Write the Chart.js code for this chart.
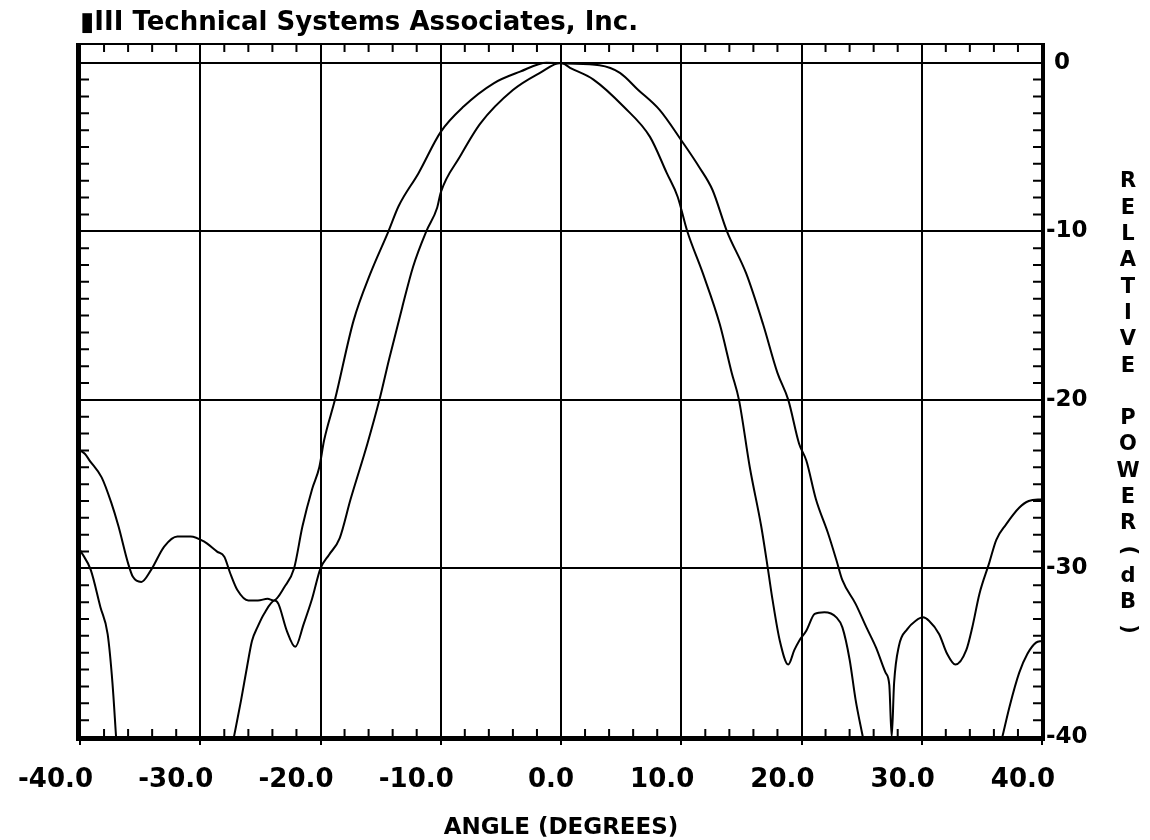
<!DOCTYPE html>
<html>
<head>
<meta charset="utf-8">
<title>Antenna pattern</title>
<script src="https://cdn.jsdelivr.net/npm/chart.js@4.4.1/dist/chart.umd.min.js"></script>
<style>
  html, body { margin: 0; padding: 0; background: #fff; }
  canvas { display: block; }
</style>
</head>
<body>
<canvas id="chart" width="1150" height="840"></canvas>
<script>
"use strict";

// ── Data ──────────────────────────────────────────────────────────────────────
// Angle in degrees, relative power in dB (0 = beam peak). null = below -40 dB.
const ANGLE_A = [
  -40, -39.6, -39.2, -38.2, -37.4, -36.8, -36.0, -35.6, -34.9, -34.1,
  -33.0, -31.9, -30.8, -29.7, -28.6, -28.0, -27.5, -26.9, -26.0, -25.2,
  -24.4, -23.9, -23.0, -22.2, -21.5, -20.7, -20.1, -19.7, -18.8, -17.25,
  -15.85, -14.35, -13.5, -11.85, -10.0, -8.1, -5.6, -3.4, -1.2, 0.5,
  3.2, 4.9, 6.4, 8.2, 10.0, 11.5, 12.6, 13.8, 15.4, 16.8,
  18.0, 18.9, 19.8, 20.4, 21.2, 22.2, 22.9, 23.4, 24.5, 25.4,
  26.2, 27.0, 27.3, 27.5, 27.7, 28.1, 28.8, 29.5, 30.1, 30.6,
  31.45, 32.1, 32.8, 33.7, 34.2, 34.8, 35.6, 36.2, 37.0, 38.1,
  38.9, 40,
];
const POWER_A = [
  -23.0, -23.2, -23.6, -24.6, -26.1, -27.5, -29.7, -30.5, -30.8, -30.1,
  -28.7, -28.1, -28.1, -28.4, -29.0, -29.3, -30.3, -31.3, -31.9, -31.9,
  -31.8, -31.9, -31.1, -30.0, -27.5, -25.3, -24.0, -22.4, -20.0, -15.3,
  -12.5, -10.0, -8.5, -6.55, -4.1, -2.6, -1.22, -0.53, 0.0, -0.05,
  -0.15, -0.6, -1.6, -2.8, -4.6, -6.2, -7.55, -10.0, -12.5, -15.5,
  -18.4, -20.0, -22.6, -23.6, -25.9, -27.9, -29.5, -30.7, -32.1, -33.5,
  -34.7, -36.2, -36.9, -40.0, -36.8, -34.6, -33.6, -33.1, -32.9, -33.1,
  -33.9, -35.05, -35.7, -34.85, -33.5, -31.5, -29.7, -28.3, -27.4, -26.4,
  -26.0, -25.9,
];

const ANGLE_B = [
  -40, -39.1, -38.3, -37.7, -37.3, -37.0, -32.0, -27.2, -26.6, -26.1,
  -25.7, -25.25, -24.7, -23.8, -23.5, -22.8, -22.1, -21.4, -20.7, -20.0,
  -19.3, -18.4, -17.5, -16.1, -15.1, -14.3, -13.2, -12.3, -11.2, -10.3,
  -10.0, -8.4, -6.7, -4.0, -1.75, 0, 0.75, 2.7, 5.2, 7.4,
  8.8, 9.7, 10.5, 11.8, 13.2, 14.2, 14.8, 15.7, 16.65, 17.2,
  17.6, 18.2, 18.9, 19.4, 19.8, 20.4, 21.1, 21.9, 22.9, 23.4,
  24.0, 24.5, 25.1, 31.0, 36.7, 37.3, 38.1, 38.8, 39.5, 40,
];
const POWER_B = [
  -28.9, -30.1, -32.3, -33.9, -36.8, -40.0, null, -40.0, -37.8, -35.8,
  -34.3, -33.5, -32.7, -31.9, -32.1, -33.7, -34.65, -33.3, -31.8, -30.0,
  -29.2, -28.2, -25.9, -22.6, -20.0, -17.6, -14.5, -12.1, -10.0, -8.6,
  -7.7, -5.57, -3.6, -1.62, -0.6, 0.0, -0.3, -1.0, -2.6, -4.4,
  -6.55, -7.95, -10.0, -12.5, -15.5, -18.4, -20.0, -24.0, -27.5, -30.0,
  -31.9, -34.3, -35.7, -34.85, -34.3, -33.7, -32.7, -32.6, -32.9, -33.5,
  -35.4, -37.8, -40.0, null, -40.0, -38.2, -36.2, -35.05, -34.4, -34.3,
];

const X_TICKS = [-40, -30, -20, -10, 0, 10, 20, 30, 40];
const Y_TICKS = [-40, -30, -20, -10, 0];

const TITLE   = "\u25AEIII Technical Systems Associates, Inc.";
const X_TITLE = "ANGLE (DEGREES)";
const Y_TITLE = "RELATIVE POWER (dB)";

// ── Helpers ───────────────────────────────────────────────────────────────────
const toPoints = (xs, ys) => xs.map((x, i) => ({ x, y: ys[i] }));

function strokeLine(ctx, x1, y1, x2, y2, width) {
  ctx.lineWidth = width;
  ctx.beginPath();
  ctx.moveTo(x1, y1);
  ctx.lineTo(x2, y2);
  ctx.stroke();
}

// ── Plugins ───────────────────────────────────────────────────────────────────
// Heavy frame plus the small inside ticks (2° along x, 1 dB along y)
const framePlugin = {
  id: "frame",
  afterDatasetsDraw(chart) {
    const { ctx, chartArea: { left, right, top, bottom }, scales: { x, y } } = chart;
    ctx.save();
    ctx.strokeStyle = "#000";

    ctx.lineWidth = 2;
    ctx.beginPath();
    for (let v = -38; v < 40; v += 2) {
      if (v % 10 === 0) continue;
      const px = x.getPixelForValue(v);
      ctx.moveTo(px, top);    ctx.lineTo(px, top + 9);
      ctx.moveTo(px, bottom); ctx.lineTo(px, bottom - 8);
    }
    for (let v = -39; v < 0; v += 1) {
      if (v % 10 === 0) continue;
      const py = y.getPixelForValue(v);
      ctx.moveTo(left, py);  ctx.lineTo(left + 9, py);
      ctx.moveTo(right, py); ctx.lineTo(right - 9, py);
    }
    ctx.stroke();

    strokeLine(ctx, left - 4, top + 1, right + 3, top + 1, 2);
    strokeLine(ctx, left - 4, bottom + 2, right + 3, bottom + 2, 4);
    strokeLine(ctx, left - 1.5, top, left - 1.5, bottom + 4, 5);
    strokeLine(ctx, right + 1, top, right + 1, bottom + 4, 4);
    ctx.restore();
  },
};

// Y title written as stacked letters, parentheses turned on their side
const stackedTitlePlugin = {
  id: "stackedTitle",
  afterDraw(chart) {
    const { ctx, chartArea: { right } } = chart;
    const cx    = right + 86;
    const pitch = 26.3;
    let cy = 182;
    ctx.save();
    ctx.fillStyle    = "#000";
    ctx.font         = "bold 21px 'DejaVu Sans', sans-serif";
    ctx.textAlign    = "center";
    ctx.textBaseline = "middle";
    [...Y_TITLE].forEach((ch, i) => {
      if (ch === " " && Y_TITLE[i + 1] === "(") return;
      if (ch === "(" || ch === ")") {
        ctx.save();
        ctx.translate(cx, cy);
        ctx.rotate(Math.PI / 2);
        ctx.fillText(ch, 0, 0);
        ctx.restore();
      } else if (ch !== " ") {
        ctx.fillText(ch, cx, cy);
      }
      cy += pitch;
    });
    ctx.restore();
  },
};

// ── Chart ─────────────────────────────────────────────────────────────────────
Chart.defaults.font.family = "'DejaVu Sans', sans-serif";
Chart.defaults.font.weight = "bold";
Chart.defaults.color       = "#000";

const lineStyle = {
  borderColor:            "#000",
  borderWidth:            2,
  pointRadius:            0,
  fill:                   false,
  spanGaps:               false,
  cubicInterpolationMode: "monotone",
};

new Chart(document.getElementById("chart"), {
  type: "line",
  data: {
    datasets: [
      { label: "Pattern A", data: toPoints(ANGLE_A, POWER_A), ...lineStyle },
      { label: "Pattern B", data: toPoints(ANGLE_B, POWER_B), ...lineStyle },
    ],
  },
  options: {
    responsive:       false,
    animation:        false,
    devicePixelRatio: 1,
    layout: { padding: { left: 80, right: 0, top: 0, bottom: 0 } },
    plugins: {
      legend:  { display: false },
      tooltip: { enabled: false },
      title: {
        display: true,
        text:    TITLE,
        align:   "start",
        color:   "#000",
        font:    { size: 26, weight: "bold", lineHeight: 1.25 },
        padding: { top: 7, bottom: 3.5 },
      },
    },
    scales: {
      x: {
        type:     "linear",
        position: "bottom",
        min: -40,
        max: 40,
        afterBuildTicks: s => { s.ticks = X_TICKS.map(value => ({ value })); },
        afterFit: s => {
          s.height = 103;
          s.paddingLeft = 0;
          s.paddingRight = 0;
        },
        ticks: {
          autoSkip:    false,
          maxRotation: 0,
          align:       "end",
          labelOffset: 13,
          padding:     20,
          color:       "#000",
          font:        { size: 26, weight: "bold" },
          callback:    v => v.toFixed(1),
        },
        grid:   { color: "#000", lineWidth: 2, drawTicks: true, tickLength: 8, tickWidth: 2, tickColor: "#000" },
        border: { display: false },
        title: {
          display: true,
          text:    X_TITLE,
          color:   "#000",
          font:    { size: 23, weight: "bold", lineHeight: 1 },
          padding: { top: 0, bottom: 0 },
        },
      },
      y: {
        type:     "linear",
        position: "right",
        min: -40,
        max: 1.17,
        afterBuildTicks: s => { s.ticks = Y_TICKS.map(value => ({ value })); },
        afterFit: s => {
          s.width = 108;
          s.paddingTop = 0;
          s.paddingBottom = 0;
        },
        ticks: {
          padding:  4,
          color:    "#000",
          font:     { size: 23, weight: "bold" },
          callback: v => (v === 0 ? "\u00A00" : String(v)),
        },
        grid:   { color: "#000", lineWidth: 2, drawTicks: false },
        border: { display: false },
      },
    },
  },
  plugins: [framePlugin, stackedTitlePlugin],
});
</script>
</body>
</html>
